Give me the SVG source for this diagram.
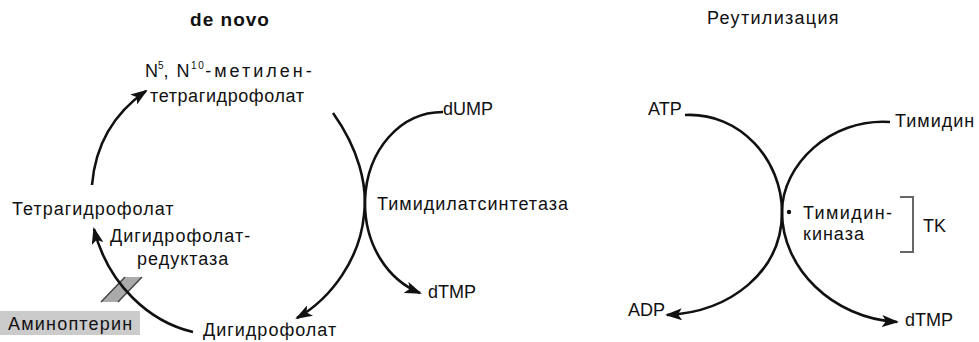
<svg xmlns="http://www.w3.org/2000/svg" width="979" height="342" viewBox="0 0 979 342">
<defs>
<marker id="ah" markerWidth="17" markerHeight="12" refX="15" refY="6" orient="auto" markerUnits="userSpaceOnUse">
<path d="M0,0 L17,6 L0,12 L4,6 Z" fill="#111"/>
</marker>
<style>
text{font-family:"Liberation Sans",Arial,sans-serif;font-size:18px;fill:#111}
.cy{letter-spacing:1px}
.c{fill:none;stroke:#111;stroke-width:2.6}
.h{font-weight:bold;font-size:19px;letter-spacing:1px}
.sup{font-size:10px}
</style>
</defs>
<rect width="979" height="342" fill="#fff"/>
<text class="h" x="230" y="26" text-anchor="middle">de novo</text>
<text class="cy" x="707" y="24" style="letter-spacing:1.3px">Реутилизация</text>

<g id="aminopterin">
<rect x="0" y="311" width="140" height="24" fill="#cbcbcb"/>
<text x="8" y="330" fill="#222" style="letter-spacing:1.2px">Аминоптерин</text>
<path d="M101,302 L125,277 L142,277 L118,302 Z" fill="#aaa"/>
<path d="M101,302 L125,277 M118,302 L142,277" stroke="#444" stroke-width="1.5"/>
</g>

<g id="connectors">
<path class="c" d="M92,185 Q97,125 146,91" marker-end="url(#ah)"/>
<path class="c" d="M193,332 C150,322 108,285 94,229" marker-end="url(#ah)"/>
<path class="c" d="M333,113 C358,148 368,185 364,215 C360,258 332,298 297,318" marker-end="url(#ah)"/>
<path class="c" d="M443,112 C400,112 367,150 365,200 C364,245 388,280 420,293" marker-end="url(#ah)"/>
<path class="c" d="M685,115 C740,112 782,160 782,212 C782,272 730,312 667,315" marker-end="url(#ah)"/>
<path class="c" d="M890,122 C830,118 782,165 782,212 C782,268 832,318 897,322" marker-end="url(#ah)"/>
</g>

<g id="methylene-thf">
<text x="145" y="77">N<tspan class="sup" dy="-8">5</tspan><tspan dy="8" letter-spacing="1.5">,  N</tspan><tspan class="sup" dy="-8" letter-spacing="1.5">10</tspan><tspan dy="8" letter-spacing="3">-метилен-</tspan></text>
<text class="cy" x="150" y="102" style="letter-spacing:0.6px">тетрагидрофолат</text>
</g>
<g id="thf"><text class="cy" x="12" y="215">Тетрагидрофолат</text></g>
<g id="dhfr"><text class="cy" x="110" y="242">Дигидрофолат-</text><text class="cy" x="137" y="265">редуктаза</text></g>
<g id="dhf"><text class="cy" x="203" y="336">Дигидрофолат</text></g>
<g id="dump"><text x="443" y="115">dUMP</text></g>
<g id="ts"><text class="cy" x="377" y="210">Тимидилатсинтетаза</text></g>
<g id="dtmp1"><text x="428" y="298">dTMP</text></g>

<g id="atp"><text x="648" y="115">ATP</text></g>
<g id="thymidine"><text class="cy" x="895" y="127">Тимидин</text></g>
<g id="tk-enzyme">
<circle cx="789" cy="212" r="2.2" fill="#111"/>
<text class="cy" x="803" y="219" style="letter-spacing:1.4px">Тимидин-</text>
<text class="cy" x="803" y="240">киназа</text>
</g>
<g id="tk">
<path d="M900,197 L913,197 L913,252 L900,252" fill="none" stroke="#666" stroke-width="2"/>
<text x="923" y="232">TK</text>
</g>
<g id="adp"><text x="628" y="316">ADP</text></g>
<g id="dtmp2"><text x="905" y="326">dTMP</text></g>
</svg>
